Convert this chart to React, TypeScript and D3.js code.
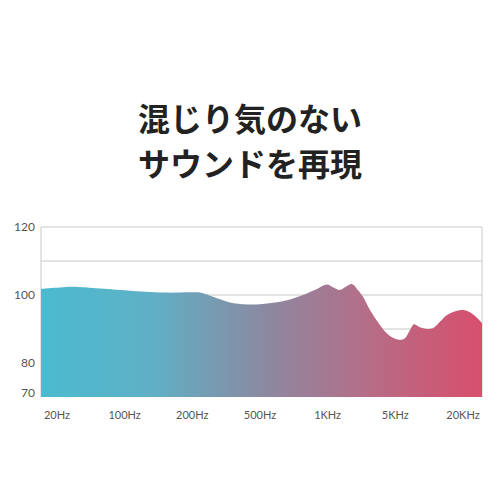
import React, { useEffect, useRef } from 'react';
import * as d3 from 'd3';

// title lines
const titleLines = ['混じり気のない', 'サウンドを再現'];

// x axis: evenly spaced frequency labels
const freqLabels = ['20Hz', '100Hz', '200Hz', '500Hz', '1KHz', '5KHz', '20KHz'];

// y axis ticks and grid
const yTickLabels = [120, 100, 80, 70];
const gridLevels = [120, 110, 100, 90, 80];

// response curve: position along the label axis (0 = 20Hz ... 6 = 20KHz) and level in dB
const curvePos = [
  -0.236, 0.044, 0.236, 0.635, 1.123, 1.626, 1.965, 2.113, 2.305, 2.557, 2.749, 2.956, 3.192,
  3.443, 3.635, 3.842, 3.99, 4.078, 4.182, 4.256, 4.359, 4.433, 4.522, 4.625, 4.773, 4.877,
  4.965, 5.069, 5.143, 5.217, 5.276, 5.364, 5.468, 5.556, 5.66, 5.763, 5.911, 6.0, 6.103,
  6.207, 6.281
];
const curveDb = [
  101.8, 102.2, 102.4, 101.9, 101.2, 100.7, 100.8, 100.7, 99.5, 97.8, 97.3, 97.2, 97.7,
  98.7, 100.0, 101.8, 103.1, 102.3, 101.5, 102.3, 103.2, 101.8, 99.5, 95.6, 91.2, 88.7,
  87.4, 86.8, 87.3, 89.7, 91.4, 90.5, 90.0, 90.2, 92.1, 94.1, 95.4, 95.6, 94.9,
  93.3, 91.7
];

// fill gradient stops
const gradientColors = ['#4bbbcf', '#5fb0c6', '#8a8aa2', '#b76c86', '#d74f6c'];

const App = () => {
  const container = useRef(null);
  const width = 500;
  const height = 500;

  const margins = { l: 41, r: 18, t: 227, b: 103 };
  const plotwidth = width - margins.l - margins.r;
  const plotheight = height - margins.t - margins.b;

  useEffect(() => {
    createChart();
  }, []);

  const createChart = () => {
    const svg = d3
      .select(container.current)
      .selectAll('svg')
      .data([0])
      .join('svg')
      .attr('width', width)
      .attr('height', height)
      .style('display', 'block');

    svg.selectAll('*').remove();

    svg.append('rect').attr('width', width).attr('height', height).attr('fill', '#fff');

    // title
    svg
      .selectAll('.title-text')
      .data(titleLines)
      .join('text')
      .attr('class', 'title-text')
      .attr('x', 250)
      .attr('y', (d, i) => 131 + i * 45)
      .attr('text-anchor', 'middle')
      .style('font-family', '"Noto Sans CJK JP", "Noto Sans", sans-serif')
      .style('font-weight', 700)
      .style('font-size', '32px')
      .style('fill', '#222')
      .text(d => d);

    const xScale = d3
      .scaleLinear()
      .domain([-0.236, 6.281])
      .range([0, plotwidth]);

    const yScale = d3
      .scaleLinear()
      .domain([70, 120])
      .range([plotheight, 0]);

    const plotg = svg
      .append('g')
      .attr('class', 'plotg')
      .attr('transform', `translate(${margins.l},${margins.t})`);

    // gradient
    const defs = svg.append('defs');
    const grad = defs
      .append('linearGradient')
      .attr('id', 'fillgrad')
      .attr('x1', 0)
      .attr('x2', 1)
      .attr('y1', 0)
      .attr('y2', 0);
    grad
      .selectAll('stop')
      .data(gradientColors)
      .join('stop')
      .attr('offset', (d, i) => i / (gradientColors.length - 1))
      .attr('stop-color', d => d);

    // grid + frame
    plotg
      .selectAll('.grid-line')
      .data(gridLevels)
      .join('line')
      .attr('class', 'grid-line')
      .attr('x1', 0)
      .attr('x2', plotwidth)
      .attr('y1', d => yScale(d))
      .attr('y2', d => yScale(d))
      .style('stroke', '#c8c8c8')
      .style('stroke-width', 1);

    plotg
      .selectAll('.side-line')
      .data([0, plotwidth])
      .join('line')
      .attr('class', 'side-line')
      .attr('x1', d => d)
      .attr('x2', d => d)
      .attr('y1', 0)
      .attr('y2', plotheight)
      .style('stroke', '#c8c8c8')
      .style('stroke-width', 1);

    // area
    const points = curvePos.map((p, i) => [p, curveDb[i]]);
    const area = d3
      .area()
      .x(d => xScale(d[0]))
      .y0(plotheight)
      .y1(d => yScale(d[1]))
      .curve(d3.curveCatmullRom.alpha(0.5));

    plotg
      .append('path')
      .datum(points)
      .attr('d', area)
      .style('fill', 'url(#fillgrad)');

    // y labels
    svg
      .selectAll('.y-label')
      .data(yTickLabels)
      .join('text')
      .attr('class', 'y-label')
      .attr('x', 35)
      .attr('y', d => margins.t + (d === 70 ? yScale(d) - 4 : yScale(d)))
      .attr('dy', '0.35em')
      .attr('text-anchor', 'end')
      .style('font-family', 'Lato, "Open Sans", sans-serif')
      .style('font-size', '12px')
      .style('fill', '#555')
      .text(d => d);

    // x labels
    svg
      .selectAll('.x-label')
      .data(freqLabels)
      .join('text')
      .attr('class', 'x-label')
      .attr('x', (d, i) => margins.l + xScale(i))
      .attr('y', 415)
      .attr('dy', '0.35em')
      .attr('text-anchor', 'middle')
      .style('font-family', 'Lato, "Open Sans", sans-serif')
      .style('font-size', '11px')
      .style('fill', '#555')
      .text(d => d);
  };

  return (
    <div
      ref={container}
      style={{ position: 'absolute', left: 0, top: 0, width: 500, height: 500 }}
    ></div>
  );
};

export default App;
